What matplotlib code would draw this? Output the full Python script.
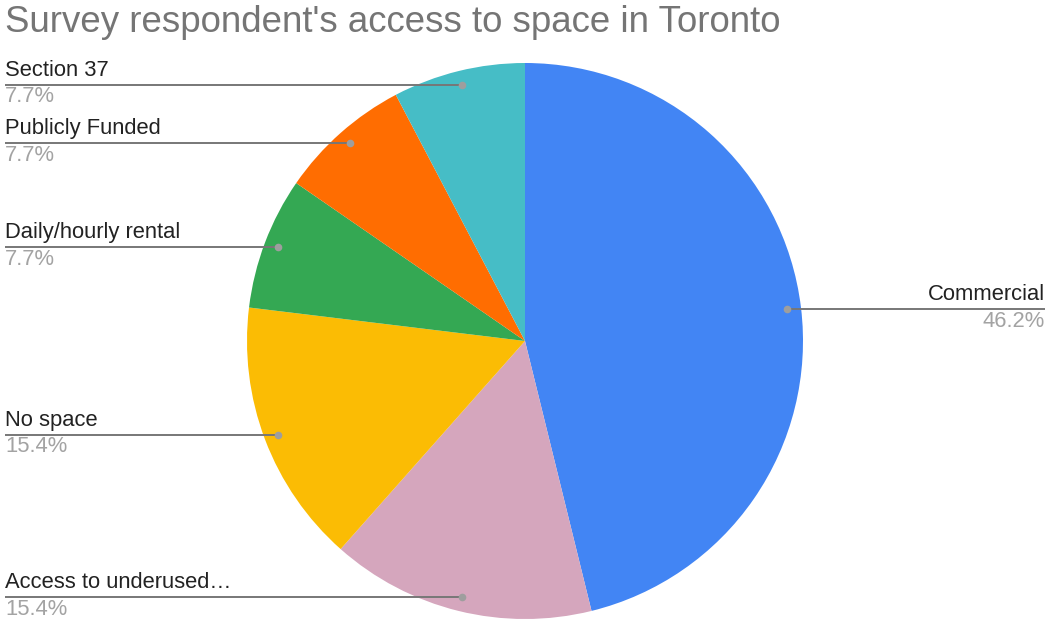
import numpy as np
import matplotlib
matplotlib.use("Agg")
import matplotlib.pyplot as plt

plt.rcParams['font.family'] = ['Liberation Sans', 'DejaVu Sans']

# chart data (13 respondents)
labels = ["Commercial", "Access to underused\u2026", "No space",
          "Daily/hourly rental", "Publicly Funded", "Section 37"]
counts = [6, 2, 2, 1, 1, 1]
colors = ["#4285F4", "#D5A6BD", "#FBBC04", "#34A853", "#FF6D01", "#46BDC6"]
title = "Survey respondent's access to space in Toronto"

W, H = 1048, 619
fig = plt.figure(figsize=(W / 100, H / 100), dpi=100)
ax = fig.add_axes([0, 0, 1, 1])

cx, cy, R = 525, H - 341, 278
wedges, _ = ax.pie(counts, colors=colors, startangle=90, counterclock=False,
                   center=(cx, cy), radius=R,
                   wedgeprops=dict(linewidth=0))
ax.set_xlim(0, W)
ax.set_ylim(0, H)
ax.set_aspect('equal')
ax.axis('off')

total = sum(counts)
for w, lab, n in zip(wedges, labels, counts):
    mid = np.deg2rad((w.theta1 + w.theta2) / 2)
    dx = cx + 0.95 * R * np.cos(mid)
    dy = cy + 0.95 * R * np.sin(mid)
    pct = f"{100 * n / total:.1f}%"
    if np.cos(mid) >= 0:
        x_end, ha = W - 3, 'right'
    else:
        x_end, ha = 5, 'left'
    ax.plot([dx, x_end], [dy, dy], color="#777777", lw=1.4,
            solid_capstyle='butt', zorder=3)
    ax.plot(dx, dy, 'o', color="#9E9E9E", ms=5.5, mec='none', zorder=4)
    ax.text(x_end, dy + 4, lab, ha=ha, va='bottom', fontsize=15.8,
            color="#222222")
    ax.text(x_end, dy - 1.5, pct, ha=ha, va='top', fontsize=15.8,
            color="#A3A3A3")

ax.text(5, H - 32, title, ha='left', va='baseline', fontsize=26.4,
        color="#757575")

fig.savefig("out.png", dpi=100)
